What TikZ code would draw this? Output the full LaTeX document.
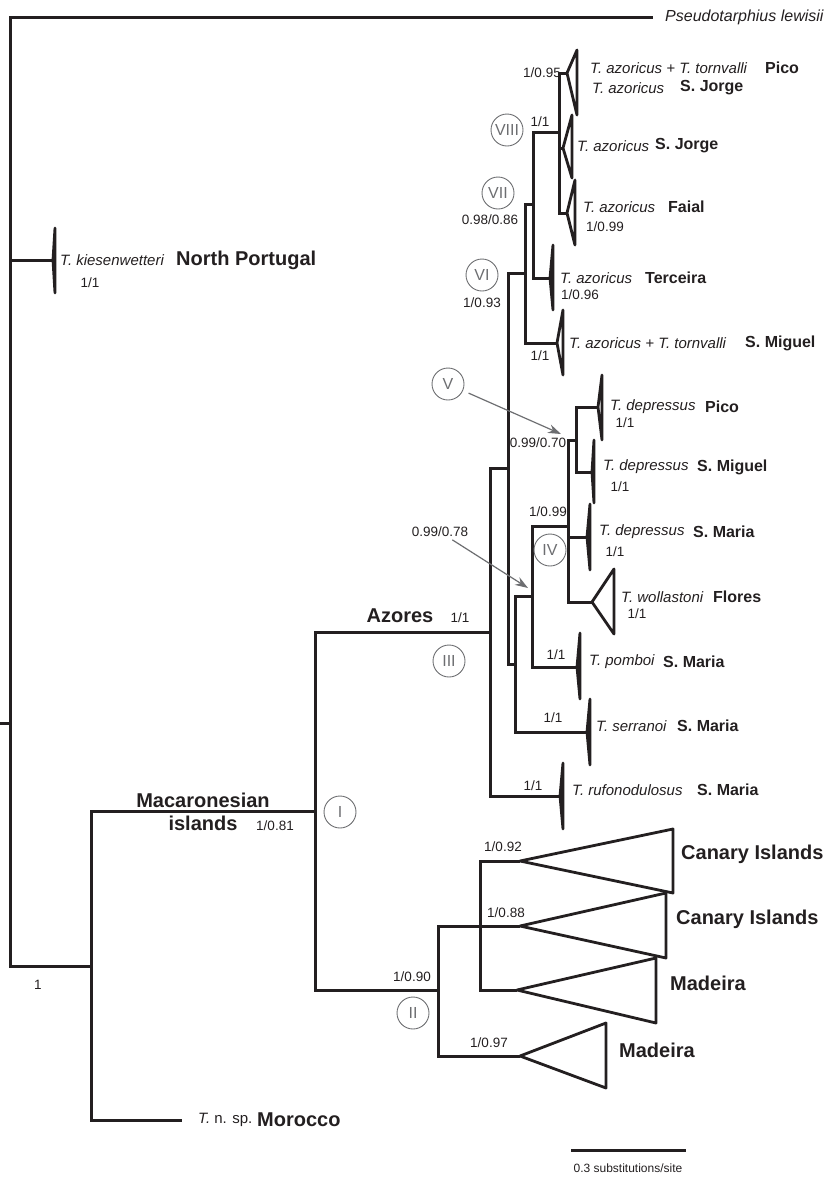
\documentclass[tikz,border=0pt]{standalone}
\usepackage{fontspec}
\setmainfont{Liberation Sans}
\usetikzlibrary{arrows.meta}

\definecolor{treeblack}{HTML}{231F20}
\definecolor{cladegrey}{HTML}{6D6E71}

\tikzset{
  branch/.style={draw=treeblack, line width=3pt},
  wedge/.style={draw=treeblack, line width=2.8pt, line join=round},
  sp/.style={font=\fontsize{15}{17}\selectfont\itshape, inner sep=0pt, anchor=west, text=treeblack},
  isl/.style={font=\fontsize{16}{18}\selectfont\bfseries, inner sep=0pt, anchor=west, text=treeblack},
  region/.style={font=\fontsize{20}{22}\selectfont\bfseries, inner sep=0pt, text=treeblack},
  supp/.style={font=\fontsize{13.5}{15}\selectfont, inner sep=0pt, text=treeblack},
  cladeno/.style={circle, draw=cladegrey, line width=0.9pt, minimum size=32pt, inner sep=0pt,
    text=cladegrey, font=\fontsize{16}{18}\selectfont},
  pointer/.style={draw=cladegrey, line width=1.2pt, -{Stealth[length=13pt,width=9pt]}}
}

% collapsed clade: apex, base x, top y, bottom y
\newcommand{\collapsed}[4]{\draw[wedge] (#1) -- (#2,#3) -- (#2,#4) -- cycle;}

\begin{document}
\begin{tikzpicture}[x=1pt,y=-1pt]
\useasboundingbox (0,0) rectangle (834,1184);

% internal nodes
\coordinate (stub) at (0,723);
\coordinate (root) at (10,723);
\coordinate (tarph) at (91,966);
\coordinate (macis) at (315,811);
\coordinate (azo) at (490,632);
\coordinate (n6) at (508,468);
\coordinate (cVI) at (525,273);
\coordinate (cVII) at (533,204);
\coordinate (cVIII) at (559,132);
\coordinate (n3) at (515,664);
\coordinate (n4) at (532,596);
\coordinate (cIV) at (568,526);
\coordinate (cV) at (576,440);
\coordinate (cII) at (438,990);
\coordinate (can) at (480,926);

% tips
\coordinate (pseudo) at (653,17);
\coordinate (kies) at (53,260);
\coordinate (moro) at (182,1120);
\coordinate (azPJ) at (567,73);
\coordinate (azSJ) at (563,148);
\coordinate (azFa) at (567,213);
\coordinate (azTe) at (550,278);
\coordinate (azSM) at (557,343);
\coordinate (dePi) at (598,407);
\coordinate (deSMi) at (592,472);
\coordinate (deSMa) at (587,537);
\coordinate (wol) at (592,602);
\coordinate (pom) at (577,667);
\coordinate (ser) at (587,732);
\coordinate (ruf) at (560,796);
\coordinate (can1) at (520,861);
\coordinate (can2) at (520,926);
\coordinate (mad1) at (517,990);
\coordinate (mad2) at (520,1056);

\draw[branch] (stub) -- (root);
\foreach \a/\b in {root/pseudo, root/kies, root/tarph, tarph/moro, tarph/macis,
  macis/azo, macis/cII, azo/n6, azo/ruf, n6/cVI, n6/n3, cVI/cVII, cVI/azSM,
  cVII/cVIII, cVII/azTe, cVIII/azPJ, cVIII/azSJ, cVIII/azFa, n3/n4, n3/ser,
  n4/cIV, n4/pom, cIV/cV, cIV/deSMa, cIV/wol, cV/dePi, cV/deSMi,
  cII/can, cII/mad2, can/can1, can/can2, can/mad1}
  \draw[branch] (\a) |- (\b);

\collapsed{kies}{55}{228}{293}
\collapsed{azPJ}{577}{50}{115}
\collapsed{azSJ}{572}{115}{178}
\collapsed{azFa}{575}{180}{245}
\collapsed{azTe}{553}{245}{310}
\collapsed{azSM}{563}{310}{375}
\collapsed{dePi}{602}{375}{440}
\collapsed{deSMi}{594}{440}{503}
\collapsed{deSMa}{590}{504}{570}
\collapsed{wol}{614}{569}{634}
\collapsed{pom}{580}{633}{699}
\collapsed{ser}{590}{699}{765}
\collapsed{ruf}{563}{763}{829}
\collapsed{can1}{673}{829}{893}
\collapsed{can2}{666}{893}{958}
\collapsed{mad1}{656}{958}{1023}
\collapsed{mad2}{606}{1023}{1088}

% taxa
\node[sp, font=\fontsize{16}{18}\selectfont\itshape] (lpseudo) at (665,17) {Pseudotarphius lewisii};
\node[sp] (lkies) at (60,260) {T. kiesenwetteri};
\node[region, anchor=west] (lnp) at (176,260) {North Portugal};
\node[sp] (lazPJ) at (590,68) {T. azoricus + T. tornvalli};
\node[isl] (iazPJ) at (765,68) {Pico};
\node[sp] (lazPJb) at (592,88) {T. azoricus};
\node[isl] (iazPJb) at (680,88) {S. Jorge};
\node[sp] (lazSJ) at (577,146) {T. azoricus};
\node[isl] (iazSJ) at (655,146) {S. Jorge};
\node[sp] (lazFa) at (583,207) {T. azoricus};
\node[isl] (iazFa) at (668,207) {Faial};
\node[sp] (lazTe) at (560,278) {T. azoricus};
\node[isl] (iazTe) at (645,278) {Terceira};
\node[sp] (lazSM) at (569,343) {T. azoricus + T. tornvalli};
\node[isl] (iazSM) at (745,343) {S. Miguel};
\node[sp] (ldePi) at (610,407) {T. depressus};
\node[isl] (idePi) at (705,407) {Pico};
\node[sp] (ldeSMi) at (603,467) {T. depressus};
\node[isl] (ideSMi) at (697,467) {S. Miguel};
\node[sp] (ldeSMa) at (599,532) {T. depressus};
\node[isl] (ideSMa) at (693,532) {S. Maria};
\node[sp] (lwol) at (621,597) {T. wollastoni};
\node[isl] (iwol) at (713,597) {Flores};
\node[sp] (lpom) at (589,662) {T. pomboi};
\node[isl] (ipom) at (663,662) {S. Maria};
\node[sp] (lser) at (596,726) {T. serranoi};
\node[isl] (iser) at (677,726) {S. Maria};
\node[sp] (lruf) at (572,790) {T. rufonodulosus};
\node[isl] (iruf) at (697,790) {S. Maria};
\node[region, anchor=west] (lcan1) at (681,854) {Canary Islands};
\node[region, anchor=west] (lcan2) at (676,919) {Canary Islands};
\node[region, anchor=west] (lmad1) at (670,983) {Madeira};
\node[region, anchor=west] (lmad2) at (619,1050) {Madeira};
\node[sp] (lmoro) at (198,1120) {T. {\upshape n. sp.}};
\node[region, anchor=west] (imoro) at (257,1120) {Morocco};
\node[region] (lazo) at (400,616) {Azores};
\node[region] (lmac) at (203,800) {Macaronesian};
\node[region] (lmacb) at (203,823) {islands};

% support values
\node[supp] (skies) at (90,283) {1/1};
\node[supp] (sroot) at (38,985) {1};
\node[supp] (smac) at (275,826) {1/0.81};
\node[supp] (sazo) at (460,618) {1/1};
\node[supp] (sPJ) at (542,73) {1/0.95};
\node[supp] (sVIII) at (540,122) {1/1};
\node[supp] (sFa) at (605,227) {1/0.99};
\node[supp] (sVII) at (490,220) {0.98/0.86};
\node[supp] (sTe) at (580,295) {1/0.96};
\node[supp] (sVI) at (482,303) {1/0.93};
\node[supp] (sSM) at (540,356) {1/1};
\node[supp] (sdePi) at (625,423) {1/1};
\node[supp] (sV) at (538,443) {0.99/0.70};
\node[supp] (sdeSMi) at (620,487) {1/1};
\node[supp] (sIV) at (548,512) {1/0.99};
\node[supp] (s78) at (440,532) {0.99/0.78};
\node[supp] (sdeSMa) at (615,552) {1/1};
\node[supp] (swol) at (637,614) {1/1};
\node[supp] (spom) at (556,655) {1/1};
\node[supp] (sser) at (553,718) {1/1};
\node[supp] (sruf) at (533,786) {1/1};
\node[supp] (scan1) at (503,847) {1/0.92};
\node[supp] (scan2) at (506,913) {1/0.88};
\node[supp] (sII) at (412,977) {1/0.90};
\node[supp] (smad2) at (489,1043) {1/0.97};

% clade numbers
\node[cladeno] (kVIII) at (507,130) {VIII};
\node[cladeno] (kVII) at (498,193) {VII};
\node[cladeno] (kVI) at (482,275) {VI};
\node[cladeno] (kV) at (448,384) {V};
\node[cladeno] (kIV) at (550,550) {IV};
\node[cladeno] (kIII) at (449,661) {III};
\node[cladeno] (kI) at (340,812) {I};
\node[cladeno] (kII) at (413,1013) {II};

\coordinate (tipV) at (561,434);
\coordinate (tip78) at (528,588);
\draw[pointer, shorten <=6pt] (kV) -- (tipV);
\draw[pointer, shorten <=5pt] (s78) -- (tip78);

% scale bar
\coordinate (sbl) at (571,1150);
\coordinate (sbr) at (686,1150);
\draw[branch] (sbl) -- (sbr);
\node[supp, font=\fontsize{12}{14}\selectfont] (lsb) at (628,1168) {0.3 substitutions/site};
\end{tikzpicture}
\end{document}
